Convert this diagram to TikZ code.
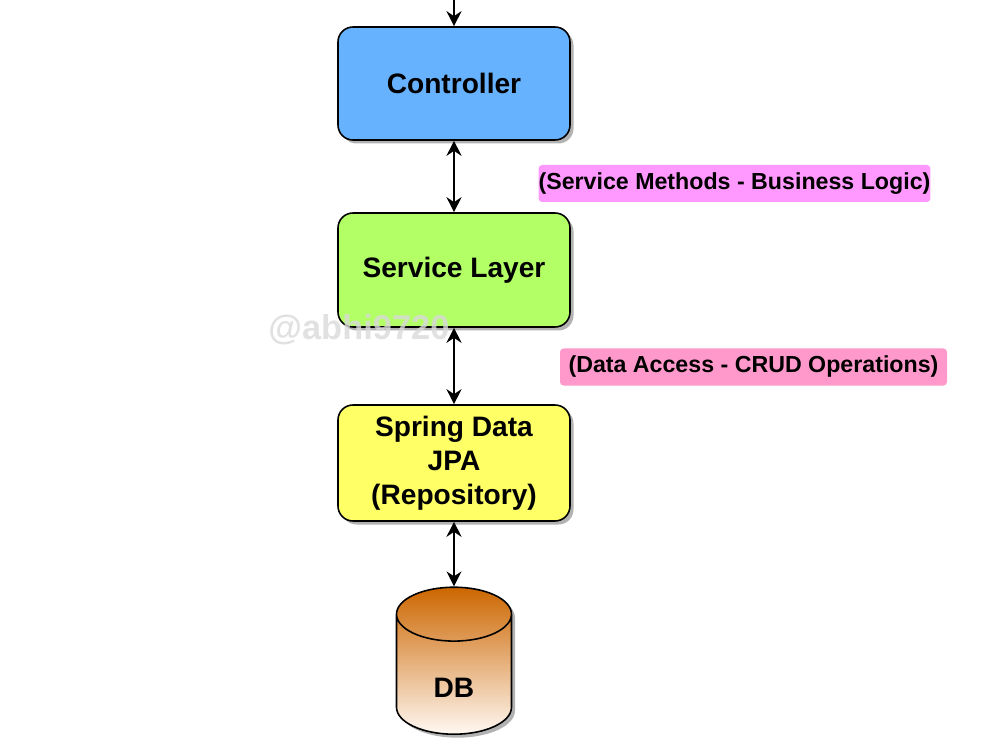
\documentclass[tikz,border=0pt]{standalone}
\usepackage{fontspec}
\setmainfont{Liberation Sans}
\usetikzlibrary{arrows.meta,shapes.geometric,shadows}

\definecolor{ctrlblue}{HTML}{66B2FF}
\definecolor{servicegreen}{HTML}{B3FF66}
\definecolor{repoyellow}{HTML}{FFFF66}
\definecolor{notepink}{HTML}{FF99FF}
\definecolor{notepinktwo}{HTML}{FF99CC}
\definecolor{dborange}{HTML}{CC6600}
\definecolor{dblight}{HTML}{FFF8F2}

\begin{document}
\begin{tikzpicture}[
		layer/.style={draw=black, line width=0.9pt, rounded corners=0.3cm,
			minimum width=4.64cm, minimum height=2.26cm, align=center,
			font=\fontsize{16}{19.3}\selectfont\bfseries,
			drop shadow={shadow xshift=0.07cm, shadow yshift=-0.07cm, opacity=0.3, fill=black}},
		note/.style={rounded corners=2pt, minimum width=7.74cm, minimum height=0.74cm,
			inner xsep=0pt, font=\fontsize{13.2}{15}\selectfont\bfseries},
		link/.style={line width=0.9pt, {Stealth[length=0.3cm,width=0.3cm]}-{Stealth[length=0.3cm,width=0.3cm]}}
	]
		\useasboundingbox (0,0) rectangle (20,15);
		
		% Layers
		\node[layer, fill=ctrlblue] (ctrl) at (9.08, 13.33) {Controller};
		\node[layer, fill=servicegreen, minimum height=2.28cm] (svc) at (9.08, 9.6) {Service Layer};
		\node[layer, fill=repoyellow, minimum height=2.32cm] (repo) at (9.08, 5.74) {Spring Data\\JPA\\(Repository)};
		
		% Database
		\node[cylinder, shape border rotate=90, aspect=4.6, draw=black, line width=0.9pt,
			minimum width=2.3cm, minimum height=2.94cm, top color=dborange, bottom color=dblight,
			anchor=south, drop shadow={shadow xshift=0.07cm, shadow yshift=-0.07cm, opacity=0.3, fill=black}] (db) at (9.08, 0.3) {};
		\node[font=\fontsize{16}{19.3}\selectfont\bfseries] (dbtext) at (9.08, 1.24) {DB};
		
		% Notes
		\node[note, fill=notepink] (logic) at (14.69, 11.33) {(Service Methods - Business Logic)};
		\node[note, fill=notepinktwo] (crud) at (15.07, 7.66) {(Data Access - CRUD Operations)};
		
		% Connectors
		\coordinate (entry) at (9.08, 15);
		\draw[line width=0.9pt, -{Stealth[length=0.3cm,width=0.3cm]}] (entry) -- (ctrl);
		\draw[link] (ctrl) -- (svc);
		\draw[link] (svc) -- (repo);
		\draw[link] (repo) -- (db);
		
		% Watermark
		\node[text=gray!30, text opacity=0.8, font=\fontsize{19.6}{22}\selectfont\bfseries] (mark) at (7.18, 8.4) {@abhi9720};
	\end{tikzpicture}
\end{document}
